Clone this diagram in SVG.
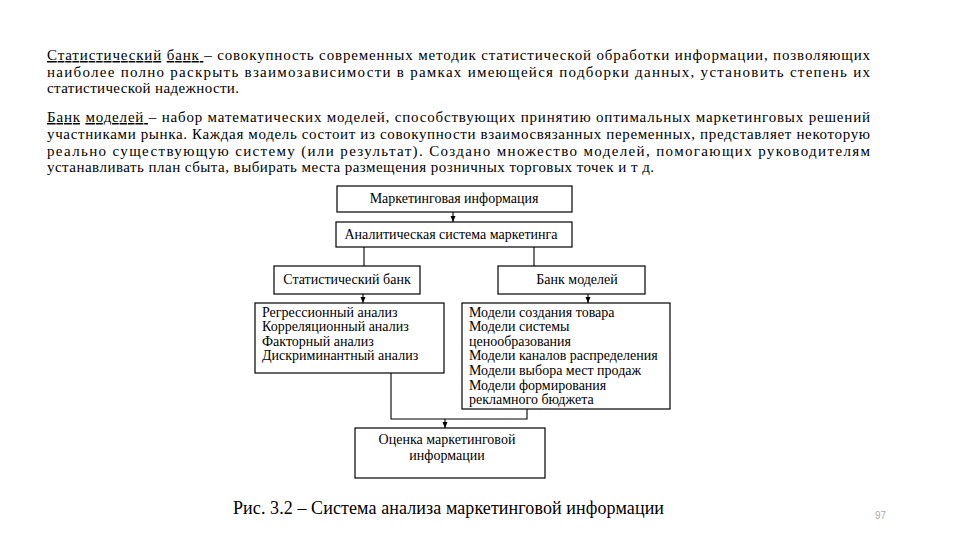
<svg xmlns="http://www.w3.org/2000/svg" width="960" height="540" viewBox="0 0 960 540">
<style>
  .p { font-family: "Liberation Serif", "Times New Roman", serif; font-size: 15px; fill: #000; }
  .d { font-family: "Liberation Serif", "Times New Roman", serif; font-size: 14px; fill: #000; }
  .c { text-anchor: middle; }
  .u { text-decoration: underline; }
  .box { fill: #fff; stroke: #000; stroke-width: 1.2; }
  .ln { fill: none; stroke: #000; stroke-width: 1.1; }
  .cap { font-family: "Liberation Serif", "Times New Roman", serif; font-size: 18px; fill: #000; }
  .pg { font-family: "Liberation Sans", Arial, sans-serif; font-size: 10px; fill: #aaa; }
</style>
<defs>
  <marker id="ah" markerUnits="userSpaceOnUse" markerWidth="6" markerHeight="6" viewBox="0 0 6 6" refX="6" refY="3" orient="auto">
    <path d="M0,0.5 L6,3 L0,5.5 Z" fill="#000"/>
  </marker>
</defs>
<rect width="960" height="540" fill="#fff"/>

<g id="text">
  <text class="p" x="47" y="60" textLength="823" lengthAdjust="spacing"><tspan class="u">Статистический</tspan> <tspan class="u">банк </tspan>– совокупность современных методик статистической обработки информации, позволяющих</text>
  <text class="p" x="47" y="77" textLength="823" lengthAdjust="spacing">наиболее полно раскрыть взаимозависимости в рамках имеющейся подборки данных, установить степень их</text>
  <text class="p" x="47" y="93" textLength="192" lengthAdjust="spacing">статистической надежности.</text>
  <text class="p" x="47" y="122" textLength="823" lengthAdjust="spacing"><tspan class="u">Банк</tspan> <tspan class="u">моделей </tspan>– набор математических моделей, способствующих принятию оптимальных маркетинговых решений</text>
  <text class="p" x="47" y="139" textLength="823" lengthAdjust="spacing">участниками рынка. Каждая модель состоит из совокупности взаимосвязанных переменных, представляет некоторую</text>
  <text class="p" x="47" y="156" textLength="823" lengthAdjust="spacing">реально существующую систему (или результат). Создано множество моделей, помогающих руководителям</text>
  <text class="p" x="47" y="172" textLength="607" lengthAdjust="spacing">устанавливать план сбыта, выбирать места размещения розничных торговых точек и т д.</text>
</g>

<g id="connectors">
  <path class="ln" d="M453,212 V222" marker-end="url(#ah)"/>
  <path class="ln" d="M364,247 V266"/>
  <path class="ln" d="M534,247 V266"/>
  <path class="ln" d="M363,294 V303" marker-end="url(#ah)"/>
  <path class="ln" d="M588,294 V303" marker-end="url(#ah)"/>
  <path class="ln" d="M391,373 V419 H527 V409"/>
  <path class="ln" d="M445,419 V428" marker-end="url(#ah)"/>
</g>

<g id="n-market-info">
  <rect class="box" x="337" y="186" width="235" height="26"/>
  <text class="d c" x="454" y="203">Маркетинговая информация</text>
</g>
<g id="n-analytic">
  <rect class="box" x="336" y="222" width="236" height="25"/>
  <text class="d c" x="451" y="239">Аналитическая система маркетинга</text>
</g>
<g id="n-stat-bank">
  <rect class="box" x="274" y="266" width="146" height="28"/>
  <text class="d c" x="347" y="284">Статистический банк</text>
</g>
<g id="n-model-bank">
  <rect class="box" x="498" y="266" width="147" height="28"/>
  <text class="d c" x="577" y="284">Банк моделей</text>
</g>
<g id="n-stat-methods">
  <rect class="box" x="255" y="303" width="189" height="70"/>
  <text class="d" x="262" y="317">Регрессионный анализ</text>
  <text class="d" x="262" y="331">Корреляционный анализ</text>
  <text class="d" x="262" y="346">Факторный анализ</text>
  <text class="d" x="262" y="360">Дискриминантный анализ</text>
</g>
<g id="n-models">
  <rect class="box" x="462" y="303" width="208" height="106"/>
  <text class="d" x="469" y="317">Модели создания товара</text>
  <text class="d" x="469" y="331">Модели системы</text>
  <text class="d" x="469" y="346">ценообразования</text>
  <text class="d" x="469" y="360">Модели каналов распределения</text>
  <text class="d" x="469" y="375">Модели выбора мест продаж</text>
  <text class="d" x="469" y="390">Модели формирования</text>
  <text class="d" x="469" y="404">рекламного бюджета</text>
</g>
<g id="n-evaluation">
  <rect class="box" x="355" y="428" width="190" height="50"/>
  <text class="d c" x="447" y="444">Оценка маркетинговой</text>
  <text class="d c" x="447" y="460">информации</text>
</g>

<text class="cap" x="233" y="514" textLength="431" lengthAdjust="spacing">Рис. 3.2 – Система анализа маркетинговой информации</text>
<text class="pg" x="875" y="519">97</text>
</svg>
